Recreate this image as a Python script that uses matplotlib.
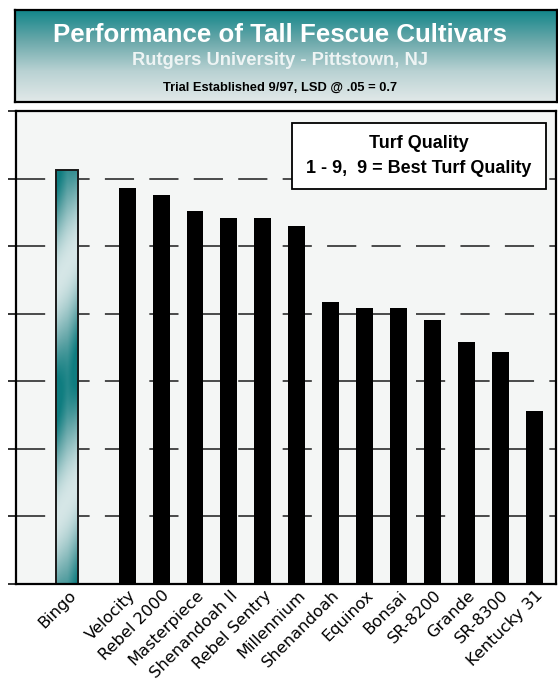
import numpy as np
import matplotlib
matplotlib.use("Agg")
import matplotlib.pyplot as plt
import matplotlib.transforms as mtransforms
from matplotlib.colors import LinearSegmentedColormap
from matplotlib.patches import Rectangle

# data (turf quality, 1-9 scale)
standard = "Bingo"
standard_score = 7.06
cultivars = ["Velocity", "Rebel 2000", "Masterpiece", "Shenandoah II",
             "Rebel Sentry", "Millennium", "Shenandoah", "Equinox", "Bonsai",
             "SR-8200", "Grande", "SR-8300", "Kentucky 31"]
scores = [6.93, 6.88, 6.76, 6.71, 6.71, 6.65, 6.09, 6.04, 6.04,
          5.95, 5.79, 5.72, 5.28]
yticks = [4.0, 4.5, 5.0, 5.5, 6.0, 6.5, 7.0, 7.5]

title = "Performance of Tall Fescue Cultivars"
subtitle = "Rutgers University - Pittstown, NJ"
note = "Trial Established 9/97, LSD @ .05 = 0.7"
box_lines = ["Turf Quality", "1 - 9,  9 = Best Turf Quality"]

plt.rcParams["lines.scale_dashes"] = False
W, H = 558, 681
fig = plt.figure(figsize=(W / 100, H / 100), dpi=100)
fig.patch.set_facecolor("white")

# ---- header panel with teal gradient
hx0, hx1, hy0, hy1 = 15, 557, 10, 102
hax = fig.add_axes([hx0 / W, 1 - hy1 / H, (hx1 - hx0) / W, (hy1 - hy0) / H])
teal = LinearSegmentedColormap.from_list("hdr", ["#12868a", "#6aa8aa", "#b9d2d3", "#e2e9e9"])
grad = np.linspace(0, 1, 256).reshape(-1, 1)
hax.imshow(grad, aspect="auto", cmap=teal, extent=[0, 1, 0, 1], origin="upper")
hax.set_xlim(0, 1)
hax.set_ylim(0, 1)
hax.set_xticks([])
hax.set_yticks([])
for s in hax.spines.values():
    s.set_linewidth(1.6)
    s.set_color("black")

cx = 280 / W
fig.text(cx, 1 - 42.3 / H, title, ha="center", va="baseline", color="white",
         fontsize=18.6, fontweight="bold", family="Liberation Sans")
fig.text(cx, 1 - 65 / H, subtitle, ha="center", va="baseline", color="#eef4f4",
         fontsize=13.2, fontweight="bold", family="Liberation Sans")
fig.text(cx, 1 - 91 / H, note, ha="center", va="baseline", color="black",
         fontsize=9.3, fontweight="bold", family="Liberation Sans")

# ---- main chart
ax0, ax1, ay0, ay1 = 15.5, 556, 111, 584
ax = fig.add_axes([ax0 / W, 1 - ay1 / H, (ax1 - ax0) / W, (ay1 - ay0) / H])
ax.set_facecolor("#f4f6f5")

x_std = -1.76
x = np.arange(len(cultivars))
xlim = (-3.29, 12.64)
ax.set_xlim(*xlim)
ax.set_ylim(yticks[0], yticks[-1])

ax.bar(x, np.array(scores) - yticks[0], bottom=yticks[0], width=0.5,
       color="black", zorder=3)

# standard cultivar: diagonal teal/white gradient bar
wd = 0.65
bar = ax.bar([x_std], [standard_score - yticks[0]], bottom=yticks[0], width=wd,
             facecolor="none", edgecolor="#1a1a1a", linewidth=1.4, zorder=4)[0]
px_per_y = (ay1 - ay0) / (yticks[-1] - yticks[0])
px_per_x = (ax1 - ax0) / (xlim[1] - xlim[0])
ny = int(round((standard_score - yticks[0]) * px_per_y))
nx = int(round(wd * px_per_x))
top_px = ay1 - ny
px, py = np.meshgrid(np.arange(nx), np.arange(ny))
d = py + top_px + 1.7 * px
v = 0.5 + 0.5 * np.cos(2 * np.pi * (d - 400) / 235)
v = np.clip(0.12 + 0.88 * v * (0.9 + 0.2 * np.abs(np.linspace(-1, 1, nx)))[None, :], 0, 1)
fill = LinearSegmentedColormap.from_list("fill", ["#eef4f4", "#a9cdce", "#62a5a7", "#0f7d80"])
im = ax.imshow(v, cmap=fill, vmin=0, vmax=1, aspect="auto", origin="upper",
               extent=[x_std - wd / 2, x_std + wd / 2, yticks[0], standard_score],
               zorder=3.5, interpolation="bilinear")
im.set_clip_path(bar)
ax.set_xlim(*xlim)
ax.set_ylim(yticks[0], yticks[-1])

# rotated category labels hanging under each bar
ax.set_xticks(np.r_[x_std, x])
ax.set_xticklabels([])
ax.tick_params(axis="x", length=0)
lab_off = ax.transData + mtransforms.ScaledTranslation(6 / 100, -9 / 100, fig.dpi_scale_trans)
for xp, name in zip(np.r_[x_std, x], [standard] + cultivars):
    ax.text(xp, yticks[0], name, transform=lab_off, rotation=45, ha="right",
            va="center", rotation_mode="anchor", fontsize=11.7,
            family="DejaVu Sans", clip_on=False)

ax.set_yticks(yticks)
ax.set_yticklabels([])
ax.tick_params(axis="y", length=6, width=1.4, color="#333333")

ax.set_axisbelow(True)
ax.grid(axis="y", color="#3c3c3c", linewidth=1.3, linestyle=(0, (21, 11)))
ax.grid(axis="x", visible=False)
for s in ax.spines.values():
    s.set_linewidth(1.6)
    s.set_color("black")
    s.set_zorder(5)

# legend-like note box
ax.add_patch(Rectangle((0.511, 0.8345), 0.47, 0.1405, transform=ax.transAxes,
                       facecolor="white", edgecolor="black", linewidth=1.3, zorder=6))
ax.text(0.746, 0.9211, box_lines[0], transform=ax.transAxes, ha="center",
        va="baseline", fontsize=13, fontweight="bold", family="Liberation Sans", zorder=7)
ax.text(0.746, 0.8683, box_lines[1], transform=ax.transAxes, ha="center",
        va="baseline", fontsize=13, fontweight="bold", family="Liberation Sans", zorder=7)

fig.savefig("out.png", dpi=100)
